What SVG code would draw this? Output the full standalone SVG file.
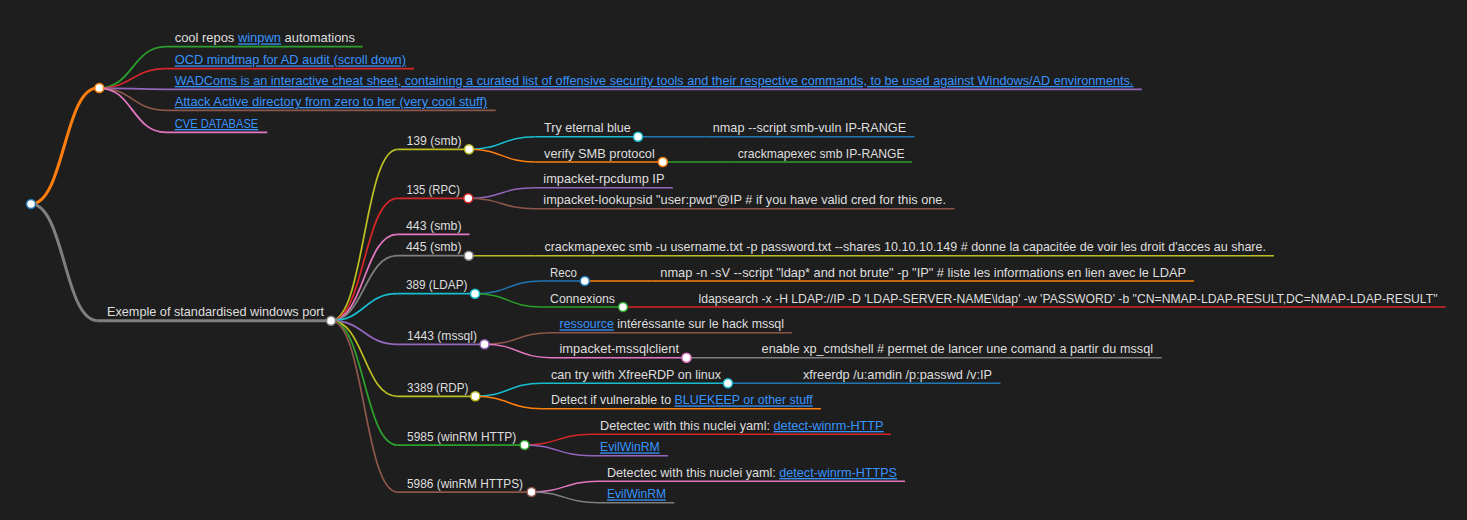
<svg xmlns="http://www.w3.org/2000/svg" width="1467" height="520" viewBox="0 0 1467 520">
<style>
.t{font-family:"Liberation Sans",Arial,sans-serif;font-size:13px;fill:#dedede}
.a{fill:#3794ff;text-decoration:underline}
.l1{fill:none;stroke-width:3}
.l2{fill:none;stroke-width:1.75}
.l3{fill:none;stroke-width:1.5}
.c{fill:#ffffff;stroke-width:1.5}
.blue{stroke:#1f77b4}.orange{stroke:#ff7f0e}.green{stroke:#2ca02c}.red{stroke:#d62728}.purple{stroke:#9467bd}
.brown{stroke:#8c564b}.pink{stroke:#e377c2}.gray{stroke:#7f7f7f}.olive{stroke:#bcbd22}.cyan{stroke:#17becf}
</style>
<rect width="1467" height="520" fill="#1e1e1e"/>
<g id="connectors">
<path class="l1 orange" d="M31,204 C64.25,204 64.25,88 97.5,88"/>
<path class="l1 gray" d="M31,204 C64.25,204 64.25,320.7 97.5,320.7"/>
<path class="l2 green" d="M99.3,88 C132.5,88 132.5,46.7 165.8,46.7"/>
<path class="l2 red" d="M99.3,88 C132.5,88 132.5,68.7 165.8,68.7"/>
<path class="l2 purple" d="M99.3,88 C132.5,88 132.5,89.3 165.8,89.3"/>
<path class="l2 brown" d="M99.3,88 C132.5,88 132.5,110.3 165.8,110.3"/>
<path class="l2 pink" d="M99.3,88 C132.5,88 132.5,132.3 165.8,132.3"/>
<path class="l2 olive" d="M331,320.7 C364.25,320.7 364.25,149.3 397.5,149.3"/>
<path class="l2 red" d="M331,320.7 C364.25,320.7 364.25,198.3 397.5,198.3"/>
<path class="l2 pink" d="M331,320.7 C364.25,320.7 364.25,234.3 397.5,234.3"/>
<path class="l2 gray" d="M331,320.7 C364.25,320.7 364.25,255.7 397.5,255.7"/>
<path class="l2 cyan" d="M331,320.7 C364.25,320.7 364.25,293.7 397.5,293.7"/>
<path class="l2 purple" d="M331,320.7 C364.25,320.7 364.25,344.3 397.5,344.3"/>
<path class="l2 olive" d="M331,320.7 C364.25,320.7 364.25,396.3 397.5,396.3"/>
<path class="l2 green" d="M331,320.7 C364.25,320.7 364.25,445 397.5,445"/>
<path class="l2 brown" d="M331,320.7 C364.25,320.7 364.25,492 397.5,492"/>
<path class="l3 cyan" d="M469,149.3 C502.25,149.3 502.25,136.7 535.5,136.7"/>
<path class="l3 orange" d="M469,149.3 C502.25,149.3 502.25,162 535.5,162"/>
<path class="l3 blue" d="M638,136.7 L704.5,136.7"/>
<path class="l3 green" d="M662.8,162 L729.3,162"/>
<path class="l3 purple" d="M468.3,198.3 C501.55,198.3 501.55,187.7 534.8,187.7"/>
<path class="l3 brown" d="M468.3,198.3 C501.55,198.3 501.55,208.7 534.8,208.7"/>
<path class="l3 olive" d="M468.75,255.7 L535.25,255.7"/>
<path class="l3 blue" d="M475,293.7 C508.25,293.7 508.25,281 541.5,281"/>
<path class="l3 green" d="M475,293.7 C508.25,293.7 508.25,307 541.5,307"/>
<path class="l3 orange" d="M584.8,281 L651.3,281"/>
<path class="l3 red" d="M623,307 L689.5,307"/>
<path class="l3 brown" d="M484.5,344.3 C517.75,344.3 517.75,332.7 551,332.7"/>
<path class="l3 pink" d="M484.5,344.3 C517.75,344.3 517.75,357.7 551,357.7"/>
<path class="l3 gray" d="M686.5,357.7 L753,357.7"/>
<path class="l3 cyan" d="M475.3,396.3 C508.55,396.3 508.55,383.3 541.8,383.3"/>
<path class="l3 orange" d="M475.3,396.3 C508.55,396.3 508.55,408.7 541.8,408.7"/>
<path class="l3 blue" d="M727.9,383.3 L794.4,383.3"/>
<path class="l3 red" d="M524.6,445 C557.85,445 557.85,434.3 591.1,434.3"/>
<path class="l3 purple" d="M524.6,445 C557.85,445 557.85,455.7 591.1,455.7"/>
<path class="l3 pink" d="M531.5,492 C564.75,492 564.75,481.3 598,481.3"/>
<path class="l3 gray" d="M531.5,492 C564.75,492 564.75,502.7 598,502.7"/>
</g>
<g id="n-root"><circle class="c blue" cx="31" cy="204" r="4.5"/></g>
<g id="n-links"><circle class="c orange" cx="99.3" cy="88" r="4.5"/></g>
<g id="n-coolrepos"><path class="l2 green" d="M165.8,46.7H362.7"/><text class="t" x="174.7" y="42.4" textLength="180.3" lengthAdjust="spacingAndGlyphs">cool repos <tspan class="a">winpwn</tspan> automations</text></g>
<g id="n-ocd"><path class="l2 red" d="M165.8,68.7H414"/><text class="t" x="174.7" y="64.4" textLength="231.3" lengthAdjust="spacingAndGlyphs"><tspan class="a">OCD mindmap for AD audit (scroll down)</tspan></text></g>
<g id="n-wadcoms"><path class="l2 purple" d="M165.8,89.3H1141.8"/><text class="t" x="174.7" y="85" textLength="958.7" lengthAdjust="spacingAndGlyphs"><tspan class="a">WADComs is an interactive cheat sheet, containing a curated list of offensive security tools and their respective commands, to be used against Windows/AD environments.</tspan></text></g>
<g id="n-attack"><path class="l2 brown" d="M165.8,110.3H495.7"/><text class="t" x="174.7" y="106" textLength="312.6" lengthAdjust="spacingAndGlyphs"><tspan class="a">Attack Active directory from zero to her (very cool stuff)</tspan></text></g>
<g id="n-cve"><path class="l2 pink" d="M165.8,132.3H267.3"/><text class="t" x="174.7" y="128" textLength="83.6" lengthAdjust="spacingAndGlyphs"><tspan class="a">CVE DATABASE</tspan></text></g>
<g id="n-ports"><path class="l1 gray" d="M97.5,320.7H331"/><circle class="c gray" cx="331" cy="320.7" r="4.5"/><text class="t" x="107" y="316.4" textLength="217" lengthAdjust="spacingAndGlyphs">Exemple of standardised windows port</text></g>
<g id="n-139"><path class="l2 olive" d="M397.5,149.3H469"/><circle class="c olive" cx="469" cy="149.3" r="4.5"/><text class="t" x="406.5" y="145" textLength="55" lengthAdjust="spacingAndGlyphs">139 (smb)</text></g>
<g id="n-eternal"><path class="l3 cyan" d="M535.5,136.7H638"/><circle class="c cyan" cx="638" cy="136.7" r="4.5"/><text class="t" x="544" y="132.4" textLength="86.8" lengthAdjust="spacingAndGlyphs">Try eternal blue</text></g>
<g id="n-nmapvuln"><path class="l3 blue" d="M704.5,136.7H914.5"/><text class="t" x="712.8" y="132.4" textLength="193.3" lengthAdjust="spacingAndGlyphs">nmap --script smb-vuln IP-RANGE</text></g>
<g id="n-verify"><path class="l3 orange" d="M535.5,162H662.8"/><circle class="c orange" cx="662.8" cy="162" r="4.5"/><text class="t" x="544" y="157.7" textLength="110.8" lengthAdjust="spacingAndGlyphs">verify SMB protocol</text></g>
<g id="n-cmeiprange"><path class="l3 green" d="M729.3,162H912"/><text class="t" x="737.7" y="157.7" textLength="167" lengthAdjust="spacingAndGlyphs">crackmapexec smb IP-RANGE</text></g>
<g id="n-135"><path class="l2 red" d="M397.5,198.3H468.3"/><circle class="c red" cx="468.3" cy="198.3" r="4.5"/><text class="t" x="406.5" y="194" textLength="53.5" lengthAdjust="spacingAndGlyphs">135 (RPC)</text></g>
<g id="n-rpcdump"><path class="l3 purple" d="M534.8,187.7H672.9"/><text class="t" x="543.3" y="183.4" textLength="121.2" lengthAdjust="spacingAndGlyphs">impacket-rpcdump IP</text></g>
<g id="n-lookupsid"><path class="l3 brown" d="M534.8,208.7H954.5"/><text class="t" x="543.3" y="204.4" textLength="402.7" lengthAdjust="spacingAndGlyphs">impacket-lookupsid "user:pwd"@IP # if you have valid cred for this one.</text></g>
<g id="n-443"><path class="l2 pink" d="M397.5,234.3H469.6"/><text class="t" x="406" y="230" textLength="55.6" lengthAdjust="spacingAndGlyphs">443 (smb)</text></g>
<g id="n-445"><path class="l2 gray" d="M397.5,255.7H468.75"/><circle class="c gray" cx="468.75" cy="255.7" r="4.5"/><text class="t" x="406" y="251.4" textLength="55.6" lengthAdjust="spacingAndGlyphs">445 (smb)</text></g>
<g id="n-cmeshares"><path class="l3 olive" d="M535.25,255.7H1274"/><text class="t" x="544.4" y="251.4" textLength="721.6" lengthAdjust="spacingAndGlyphs">crackmapexec smb -u username.txt -p password.txt --shares 10.10.10.149 # donne la capacitée de voir les droit d'acces au share.</text></g>
<g id="n-389"><path class="l2 cyan" d="M397.5,293.7H475"/><circle class="c cyan" cx="475" cy="293.7" r="4.5"/><text class="t" x="406" y="289.4" textLength="61.4" lengthAdjust="spacingAndGlyphs">389 (LDAP)</text></g>
<g id="n-reco"><path class="l3 blue" d="M541.5,281H584.8"/><circle class="c blue" cx="584.8" cy="281" r="4.5"/><text class="t" x="550" y="276.7" textLength="26.8" lengthAdjust="spacingAndGlyphs">Reco</text></g>
<g id="n-nmapldap"><path class="l3 orange" d="M651.3,281H1194"/><text class="t" x="660.3" y="276.7" textLength="525.7" lengthAdjust="spacingAndGlyphs">nmap -n -sV --script "ldap* and not brute" -p "IP" # liste les informations en lien avec le LDAP</text></g>
<g id="n-connexions"><path class="l3 green" d="M541.5,307H623"/><circle class="c green" cx="623" cy="307" r="4.5"/><text class="t" x="550" y="302.7" textLength="65" lengthAdjust="spacingAndGlyphs">Connexions</text></g>
<g id="n-ldapsearch"><path class="l3 red" d="M689.5,307H1445.7"/><text class="t" x="698.5" y="302.7" textLength="739" lengthAdjust="spacingAndGlyphs">ldapsearch -x -H LDAP://IP -D 'LDAP-SERVER-NAME\ldap' -w 'PASSWORD' -b "CN=NMAP-LDAP-RESULT,DC=NMAP-LDAP-RESULT"</text></g>
<g id="n-1443"><path class="l2 purple" d="M397.5,344.3H484.5"/><circle class="c purple" cx="484.5" cy="344.3" r="4.5"/><text class="t" x="407" y="340" textLength="70" lengthAdjust="spacingAndGlyphs">1443 (mssql)</text></g>
<g id="n-ressource"><path class="l3 brown" d="M551,332.7H791.8"/><text class="t" x="559.5" y="328.4" textLength="224.5" lengthAdjust="spacingAndGlyphs"><tspan class="a">ressource</tspan> intéréssante sur le hack mssql</text></g>
<g id="n-mssqlclient"><path class="l3 pink" d="M551,357.7H686.5"/><circle class="c pink" cx="686.5" cy="357.7" r="4.5"/><text class="t" x="559.5" y="353.4" textLength="119.5" lengthAdjust="spacingAndGlyphs">impacket-mssqlclient</text></g>
<g id="n-cmdshell"><path class="l3 gray" d="M753,357.7H1161.7"/><text class="t" x="761.6" y="353.4" textLength="391.4" lengthAdjust="spacingAndGlyphs">enable xp_cmdshell # permet de lancer une comand a partir du mssql</text></g>
<g id="n-3389"><path class="l2 olive" d="M397.5,396.3H475.3"/><circle class="c olive" cx="475.3" cy="396.3" r="4.5"/><text class="t" x="407" y="392" textLength="61.4" lengthAdjust="spacingAndGlyphs">3389 (RDP)</text></g>
<g id="n-xfreerdplinux"><path class="l3 cyan" d="M541.8,383.3H727.9"/><circle class="c cyan" cx="727.9" cy="383.3" r="4.5"/><text class="t" x="551" y="379" textLength="170" lengthAdjust="spacingAndGlyphs">can try with XfreeRDP on linux</text></g>
<g id="n-xfreerdpcmd"><path class="l3 blue" d="M794.4,383.3H1000.5"/><text class="t" x="802.9" y="379" textLength="189.1" lengthAdjust="spacingAndGlyphs">xfreerdp /u:amdin /p:passwd /v:IP</text></g>
<g id="n-bluekeep"><path class="l3 orange" d="M541.8,408.7H821"/><text class="t" x="551" y="404.4" textLength="261.8" lengthAdjust="spacingAndGlyphs">Detect if vulnerable to <tspan class="a">BLUEKEEP or other stuff</tspan></text></g>
<g id="n-5985"><path class="l2 green" d="M397.5,445H524.6"/><circle class="c green" cx="524.6" cy="445" r="4.5"/><text class="t" x="407" y="440.7" textLength="109.2" lengthAdjust="spacingAndGlyphs">5985 (winRM HTTP)</text></g>
<g id="n-nucleihttp"><path class="l3 red" d="M591.1,434.3H891"/><text class="t" x="600" y="430" textLength="283.6" lengthAdjust="spacingAndGlyphs">Detectec with this nuclei yaml: <tspan class="a">detect-winrm-HTTP</tspan></text></g>
<g id="n-evil1"><path class="l3 purple" d="M591.1,455.7H668"/><text class="t" x="600" y="451.4" textLength="59.7" lengthAdjust="spacingAndGlyphs"><tspan class="a">EvilWinRM</tspan></text></g>
<g id="n-5986"><path class="l2 brown" d="M397.5,492H531.5"/><circle class="c brown" cx="531.5" cy="492" r="4.5"/><text class="t" x="407" y="487.7" textLength="116" lengthAdjust="spacingAndGlyphs">5986 (winRM HTTPS)</text></g>
<g id="n-nucleihttps"><path class="l3 pink" d="M598,481.3H905"/><text class="t" x="607" y="477" textLength="290" lengthAdjust="spacingAndGlyphs">Detectec with this nuclei yaml: <tspan class="a">detect-winrm-HTTPS</tspan></text></g>
<g id="n-evil2"><path class="l3 gray" d="M598,502.7H674.3"/><text class="t" x="607" y="498.4" textLength="59" lengthAdjust="spacingAndGlyphs"><tspan class="a">EvilWinRM</tspan></text></g>
</svg>
